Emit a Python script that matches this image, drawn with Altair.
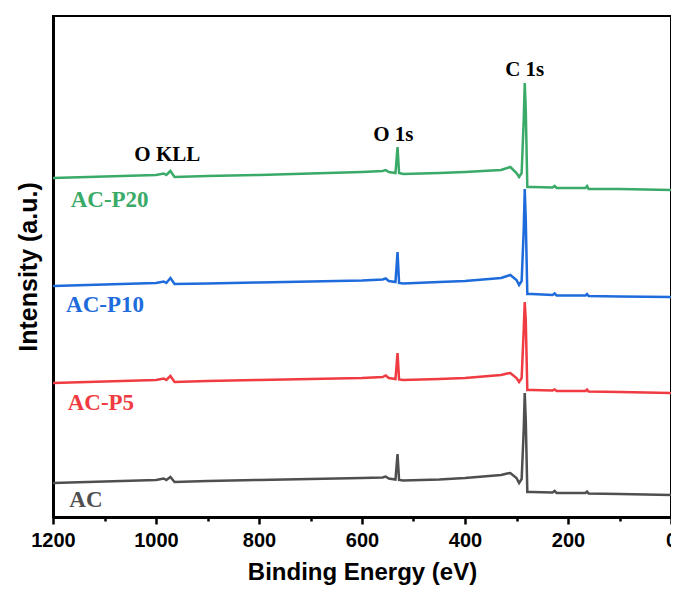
import altair as alt
import pandas as pd

# Binding energy sample positions (eV)
EV = [1200, 1100, 1000, 985, 980, 972, 964, 900, 800, 700, 600, 560, 554, 548, 535,
      531, 528, 520, 450, 400, 330, 318, 312, 300, 295, 290, 286, 284, 282, 279,
      270, 230, 226, 222, 200, 166, 163, 160, 100, 0]

# Intensities (a.u., stacked with offsets)
AC = [34, 35.5, 37, 38.5, 37, 40, 35, 36, 37, 38, 39, 39.5, 40.5, 38.5, 37.5,
      63, 37, 36.5, 37.5, 39, 42, 43.5, 44, 39, 34, 38, 87, 124, 97, 25,
      25, 24.5, 26, 24, 24, 24, 25.5, 23.5, 23, 22]
AC_P5 = [134, 135.5, 137, 138.5, 137, 141, 135, 136, 137, 138, 139, 140, 141.5, 139, 138,
         164, 137.5, 137, 138, 139, 142, 143.5, 144, 139, 135, 139, 187, 215, 197, 127,
         127, 126.5, 127.5, 126, 126, 126, 127.5, 125.5, 125, 124]
AC_P10 = [231, 232.5, 234, 235.5, 234, 239, 233, 233.5, 234.5, 235.5, 236.5, 237.5, 238.5, 236, 235,
          265, 234, 233.5, 235, 236, 239, 241, 242, 237, 232, 236, 287, 328, 297, 223,
          223, 222, 223.5, 221.5, 221.5, 221.5, 223, 221, 220.5, 220]
AC_P20 = [339, 340.5, 342, 343.5, 342, 346, 340, 341, 342, 343.5, 345, 346, 347, 345, 344,
          370, 344, 343, 344, 345, 347, 349, 350, 344, 340, 344, 397, 434, 407, 330,
          330, 329.5, 331, 329, 329, 329, 331, 328, 328, 327]

SERIES = ["AC", "AC-P5", "AC-P10", "AC-P20"]
COLORS = ["#4f4f4f", "#ef3b41", "#1e6bdc", "#3aaa68"]

# Sample label positions
SAMPLE_LABEL_EV = [1136, 1107, 1099, 1090]
SAMPLE_LABEL_I = [17, 114.5, 212, 317.5]

# Peak annotations
PEAK_NAMES = ["O KLL", "O 1s", "C 1s"]
PEAK_EV = [978, 539, 284]
PEAK_I = [362, 382, 447]

MAJOR_TICKS = [1200, 1000, 800, 600, 400, 200, 0]
MINOR_TICKS = [1100, 900, 700, 500, 300, 100]

rows = []
for name, vals in zip(SERIES, [AC, AC_P5, AC_P10, AC_P20]):
    for e, v in zip(EV, vals):
        rows.append({"ev": e, "intensity": v, "series": name})
lines_df = pd.DataFrame(rows)

labels_df = pd.DataFrame({"ev": SAMPLE_LABEL_EV, "intensity": SAMPLE_LABEL_I, "series": SERIES})
peaks_df = pd.DataFrame({"ev": PEAK_EV, "intensity": PEAK_I, "name": PEAK_NAMES})

xscale = alt.Scale(domain=[0, 1200], reverse=True, nice=False, zero=False)
yscale = alt.Scale(domain=[0, 501], nice=False, zero=False)
color_scale = alt.Scale(domain=SERIES, range=COLORS)

yaxis = alt.Axis(title="Intensity (a.u.)", ticks=False, labels=False, domainColor="black",
                 domainWidth=3, titleFont="Liberation Sans", titleFontSize=25,
                 titleFontWeight="bold", titleColor="black", titlePadding=12)

lines = alt.Chart(lines_df).mark_line(strokeWidth=2.5, clip=True).encode(
    x=alt.X("ev:Q", scale=xscale,
            axis=alt.Axis(values=MAJOR_TICKS, title="Binding Energy (eV)", format="d",
                          tickSize=7, tickWidth=2.5, tickColor="black",
                          domainColor="black", domainWidth=3,
                          labelFont="Liberation Sans", labelFontSize=20, labelFontWeight="bold",
                          labelColor="black", labelPadding=6, labelFlush=False,
                          titleFont="Liberation Sans", titleFontSize=24, titleFontWeight="bold",
                          titleColor="black", titlePadding=10, grid=False)),
    y=alt.Y("intensity:Q", scale=yscale, axis=yaxis),
    color=alt.Color("series:N", scale=color_scale, legend=None),
    detail="series:N",
)

sample_text = alt.Chart(labels_df).mark_text(
    font="Liberation Serif", fontSize=23, fontWeight="bold", align="center", baseline="middle"
).encode(
    x=alt.X("ev:Q", scale=xscale,
            axis=alt.Axis(values=MINOR_TICKS, labels=False, domain=False, title=None,
                          tickSize=4, tickWidth=2.5, tickColor="black", grid=False,
                          orient="bottom")),
    y=alt.Y("intensity:Q", scale=yscale, axis=yaxis),
    text="series:N",
    color=alt.Color("series:N", scale=color_scale, legend=None),
)

peak_text = alt.Chart(peaks_df).mark_text(
    font="Liberation Serif", fontSize=21, fontWeight="bold", align="center", baseline="middle",
    color="black"
).encode(
    x=alt.X("ev:Q", scale=xscale),
    y=alt.Y("intensity:Q", scale=yscale, axis=yaxis),
    text="name:N",
)

chart = alt.layer(lines, alt.layer(sample_text, peak_text)).resolve_scale(
    x="independent"
).properties(
    width=618, height=501,
    autosize=alt.AutoSizeParams(type="none"),
    padding={"left": 45, "top": 8, "right": 0, "bottom": 70},
).configure_view(
    stroke="black", strokeWidth=2
).configure_axis(grid=False)

chart.save("out.html", embed_options={"renderer": "svg", "actions": False})
